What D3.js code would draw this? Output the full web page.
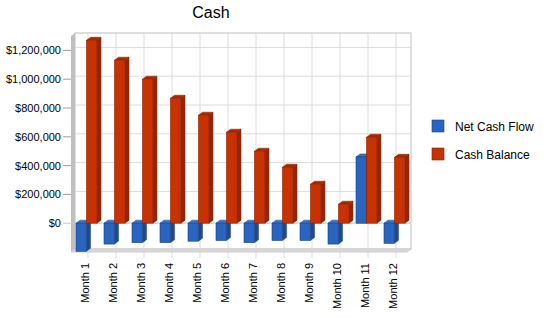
<!DOCTYPE html>
<html lang="en">
<head>
<meta charset="UTF-8">
<title>Cash</title>
<script src="https://cdn.jsdelivr.net/npm/d3@7"></script>
<style>
  html, body { margin: 0; padding: 0; background: #fff; }
  text { font-family: "Liberation Sans", Arial, sans-serif; fill: #000; }
</style>
</head>
<body>
<svg id="chart" width="550" height="318"></svg>
<script>
// data
const months = ['Month 1','Month 2','Month 3','Month 4','Month 5','Month 6',
                'Month 7','Month 8','Month 9','Month 10','Month 11','Month 12']
const netCashFlow = [-195000,-145000,-135000,-135000,-125000,-120000,-135000,-120000,-120000,-145000,460000,-140000]
const cashBalance = [1270000,1132000,1000000,868000,750000,632000,500000,389000,271000,132000,597000,458000]
const seriesNames = ['Net Cash Flow','Cash Balance']
const yTicks = [0,200000,400000,600000,800000,1000000,1200000]

const colors = [
  { front: '#2864c0', side: '#1d4a92', top: '#3a74cc', stroke: '#1a4080' },
  { front: '#c83200', side: '#962600', top: '#a82a00', stroke: '#8a2200' }
]

const svg = d3.select('#chart')

// 3d depth offsets
const DX = 4, DY = -3

const x = d3.scaleBand().domain(months).range([71, 407])
const xs = d3.scaleBand().domain(seriesNames).range([5, 26])
const y = d3.scaleLinear().domain([-200000, 1300000]).range([252, 36])

const plotLeft = 71, plotRight = 407, plotTop = y(1300000), plotBottom = y(-200000)
const gridX = d => x(d) + x.bandwidth() / 2 + 3

// back wall
svg.append('rect')
  .attr('x', plotLeft + DX).attr('y', plotTop + DY)
  .attr('width', plotRight - plotLeft).attr('height', plotBottom - plotTop)
  .attr('fill', '#fff').attr('stroke', '#c0c0c0')

// horizontal grid on back wall
svg.append('g').selectAll('line')
  .data(yTicks.slice(1))
  .join('line')
  .attr('x1', plotLeft + DX).attr('x2', plotRight + DX)
  .attr('y1', d => y(d) + DY).attr('y2', d => y(d) + DY)
  .attr('stroke', '#dcdcdc')

// vertical grid, continuing below the floor as tick marks
svg.append('g').selectAll('line')
  .data(months)
  .join('line')
  .attr('x1', gridX).attr('x2', gridX)
  .attr('y1', plotTop + DY).attr('y2', plotBottom + 6)
  .attr('stroke', '#dcdcdc')

// left wall
svg.append('polygon')
  .attr('points', [[plotLeft, plotTop], [plotLeft + DX, plotTop + DY], [plotLeft + DX, plotBottom + DY], [plotLeft, plotBottom]].join(' '))
  .attr('fill', '#c0c0c0')

// floor
svg.append('polygon')
  .attr('points', [[plotLeft, plotBottom], [plotLeft + DX, plotBottom + DY], [plotRight + DX, plotBottom + DY], [plotRight, plotBottom]].join(' '))
  .attr('fill', '#dadada').attr('stroke', '#c8c8c8').attr('stroke-width', 0.8)

// zero line
svg.append('line')
  .attr('x1', 63).attr('x2', plotRight + DX)
  .attr('y1', y(0)).attr('y2', y(0))
  .attr('stroke', '#c8c8c8')

// y axis ticks and labels
const yAxis = svg.append('g')
yAxis.selectAll('line')
  .data(yTicks.slice(1))
  .join('line')
  .attr('x1', 63).attr('x2', plotLeft)
  .attr('y1', d => y(d)).attr('y2', d => y(d))
  .attr('stroke', '#a0a0a0')
yAxis.selectAll('text')
  .data(yTicks)
  .join('text')
  .attr('x', 61).attr('y', d => y(d) + 4)
  .attr('text-anchor', 'end')
  .style('font-size', '11px')
  .text(d => '$' + d3.format(',')(d))

// bars
const bars = []
months.forEach((m, i) => {
  bars.push({ m, s: 0, v: netCashFlow[i] })
  bars.push({ m, s: 1, v: cashBalance[i] })
})

const barG = svg.append('g')
bars.forEach(b => {
  const x0 = x(b.m) + xs(seriesNames[b.s])
  const w = xs.bandwidth()
  const yTop = Math.min(y(b.v), y(0))
  const yBot = Math.max(y(b.v), y(0))
  const c = colors[b.s]
  const g = barG.append('g')
  // side face
  g.append('polygon')
    .attr('points', [[x0 + w, yTop], [x0 + w + DX, yTop + DY], [x0 + w + DX, yBot + DY], [x0 + w, yBot]].join(' '))
    .attr('fill', c.side).attr('stroke', c.stroke).attr('stroke-width', 0.5)
  // top face
  g.append('polygon')
    .attr('points', [[x0, yTop], [x0 + DX, yTop + DY], [x0 + w + DX, yTop + DY], [x0 + w, yTop]].join(' '))
    .attr('fill', c.top).attr('stroke', c.stroke).attr('stroke-width', 0.5)
  // front face
  g.append('rect')
    .attr('x', x0).attr('y', yTop)
    .attr('width', w).attr('height', yBot - yTop)
    .attr('fill', c.front).attr('stroke', c.stroke).attr('stroke-width', 0.6)
})

// x labels
svg.append('g').selectAll('text')
  .data(months)
  .join('text')
  .attr('transform', d => `translate(${x(d) + x.bandwidth() / 2 + 4}, 263) rotate(-90)`)
  .attr('text-anchor', 'end')
  .style('font-size', '11px')
  .text(d => d)

// title
svg.append('text')
  .attr('x', 211).attr('y', 18)
  .attr('text-anchor', 'middle')
  .style('font-size', '16px')
  .text('Cash')

// legend
const legend = svg.append('g')
seriesNames.forEach((s, i) => {
  legend.append('rect')
    .attr('x', 432).attr('y', 120 + i * 28)
    .attr('width', 12).attr('height', 12)
    .attr('fill', colors[i].front).attr('stroke', colors[i].stroke).attr('stroke-width', 0.6)
  legend.append('text')
    .attr('x', 455).attr('y', 131 + i * 28)
    .style('font-size', '12px')
    .text(s)
})
</script>
</body>
</html>
